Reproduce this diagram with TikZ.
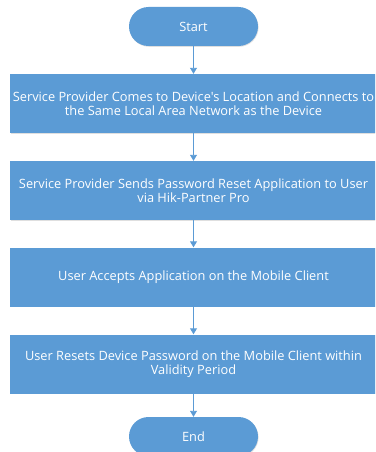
\documentclass[tikz,border=0pt]{standalone}
\usepackage{fontspec}
\setmainfont{Open Sans}[Ligatures=TeXOff]
\usetikzlibrary{arrows.meta,shapes.misc,shadows}
\definecolor{fb}{HTML}{5B9BD5}
\begin{document}
\begin{tikzpicture}[x=1pt,y=-1pt,
  stepbox/.style={fill=fb,draw=none,minimum width=367pt,minimum height=59pt,inner sep=0pt,align=center,text=white,font=\fontsize{12.8}{14.5}\selectfont, drop shadow={shadow xshift=0.6pt,shadow yshift=-0.8pt,opacity=0.25}},
  term/.style={fill=fb,draw=none,rounded rectangle,minimum width=129pt,minimum height=39pt,inner sep=0pt,text=white,font=\fontsize{12.8}{14.5}\selectfont, drop shadow={shadow xshift=0.6pt,shadow yshift=-0.8pt,opacity=0.25}},
  conn/.style={draw=fb,line width=0.9pt,-{Triangle[length=6pt,width=7pt]}}]
\useasboundingbox (0,0) rectangle (375,452);
\clip (0,0) rectangle (375,452);
\node[term] (start) at (193.5,26.5) {Start};
\node[stepbox] (s1) at (193.5,103.5) {Service Provider Comes to Device's Location and Connects to\\the Same Local Area Network as the Device};
\node[stepbox] (s2) at (193.5,190.5) {Service Provider Sends Password Reset Application to User\\via Hik-Partner Pro};
\node[stepbox] (s3) at (193.5,277) {User Accepts Application on the Mobile Client};
\node[stepbox] (s4) at (193.5,364) {User Resets Device Password on the Mobile Client within\\Validity Period};
\node[term] (end) at (193.5,436.5) {End};
\draw[conn] (start) -- (s1);
\draw[conn] (s1) -- (s2);
\draw[conn] (s2) -- (s3);
\draw[conn] (s3) -- (s4);
\draw[conn] (s4) -- (end);
\end{tikzpicture}
\end{document}
